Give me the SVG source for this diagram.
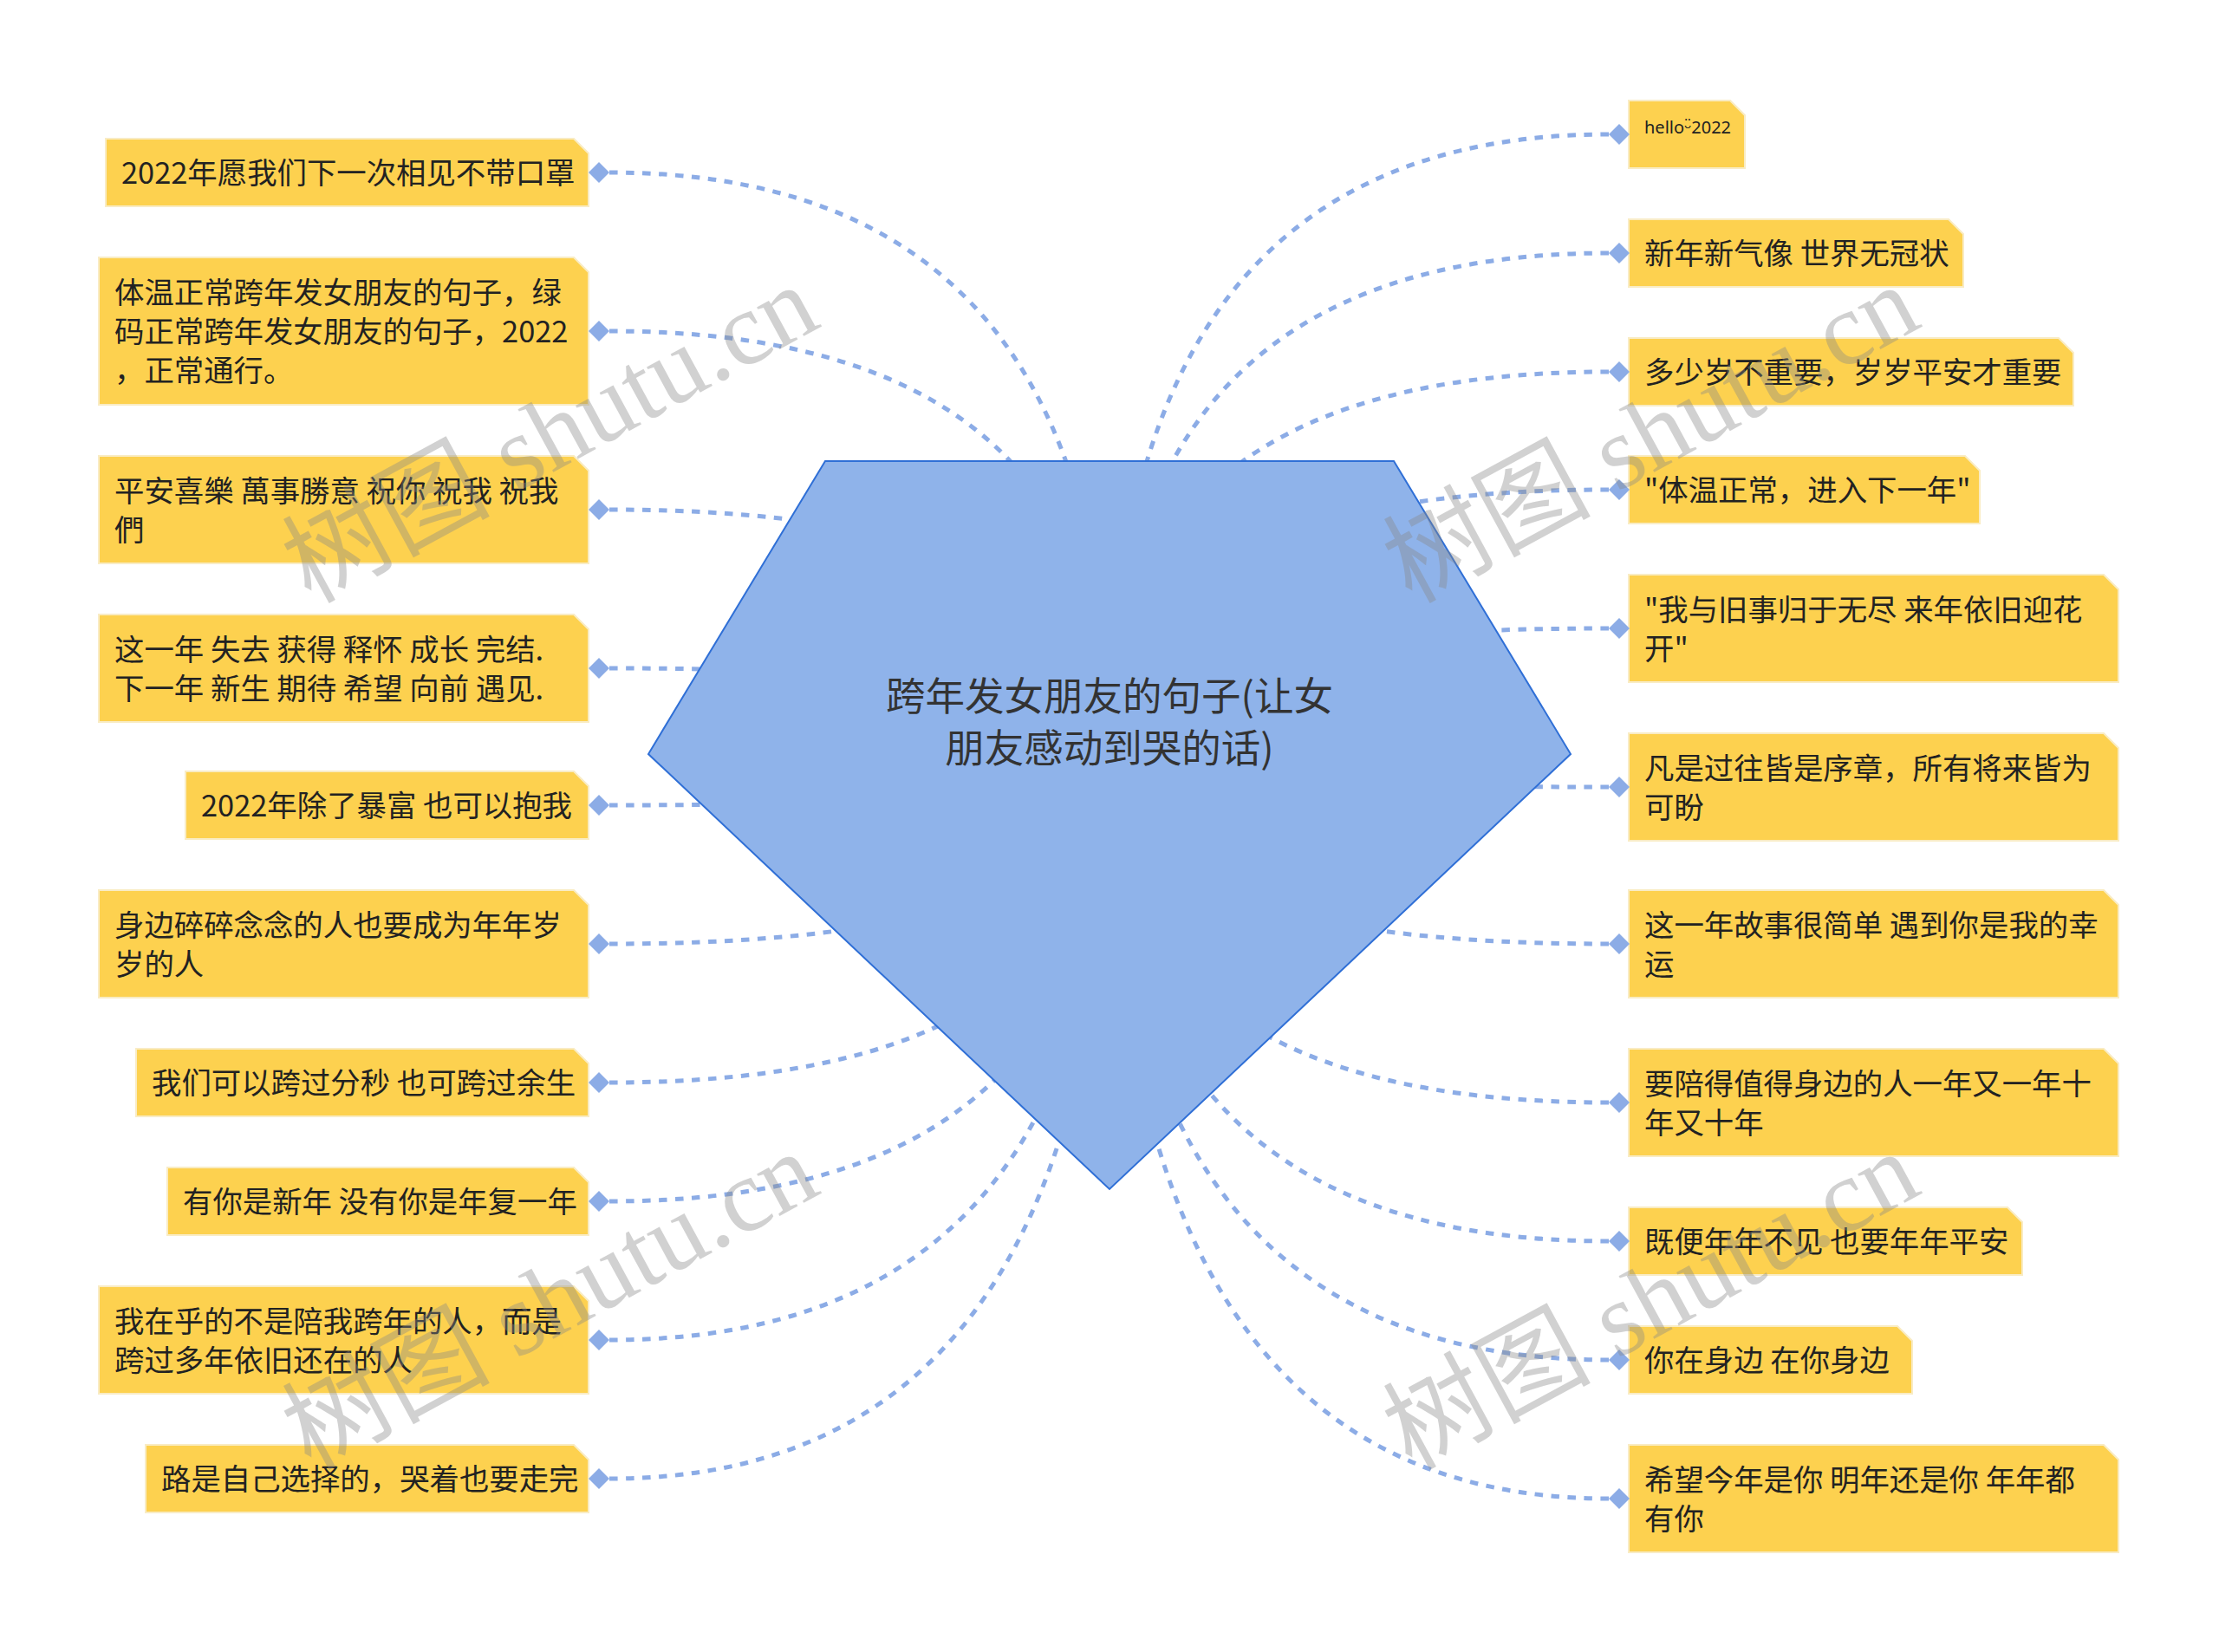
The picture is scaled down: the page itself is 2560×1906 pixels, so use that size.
<svg xmlns="http://www.w3.org/2000/svg" xmlns:xlink="http://www.w3.org/1999/xlink" width="2560" height="1906" viewBox="0 0 2560 1906">
<style>
.bg{fill:#ffffff}
.box{fill:#fdd14f;stroke:#f9ecc4;stroke-width:2}
.t{font-family:"Noto Sans CJK SC","Noto Sans",sans-serif;font-size:34.4px;fill:#222222}
.hello{font-family:"Noto Sans","Noto Sans CJK SC",sans-serif;font-size:20px;fill:#222222}
.title{font-family:"Noto Sans CJK SC","Noto Sans",sans-serif;font-size:45.5px;fill:#333333;text-anchor:middle}
.conn{fill:none;stroke:#8cace6;stroke-width:5;stroke-dasharray:9.5 9.5}
.dm{fill:#8cace6}
.wm{font-family:"Liberation Serif","Noto Sans CJK SC",serif;font-size:120px;fill:#888888;opacity:0.38}
</style>
<defs>
<path id="dm" d="M-12 0 L0 -12 L12 0 L0 12 Z"/>
</defs>
<rect class="bg" x="0" y="0" width="2560" height="1906"/>
<g id="connectors">
<path class="conn" d="M703 199 Q1280 199 1280 870"/>
<path class="conn" d="M703 382 Q1280 382 1280 870"/>
<path class="conn" d="M703 588 Q1280 588 1280 870"/>
<path class="conn" d="M703 771 Q1280 771 1280 870"/>
<path class="conn" d="M703 929 Q1280 929 1280 870"/>
<path class="conn" d="M703 1089 Q1280 1089 1280 870"/>
<path class="conn" d="M703 1249 Q1280 1249 1280 870"/>
<path class="conn" d="M703 1386 Q1280 1386 1280 870"/>
<path class="conn" d="M703 1546 Q1280 1546 1280 870"/>
<path class="conn" d="M703 1706 Q1280 1706 1280 870"/>
<path class="conn" d="M1856 155 Q1280 155 1280 870"/>
<path class="conn" d="M1856 292 Q1280 292 1280 870"/>
<path class="conn" d="M1856 429 Q1280 429 1280 870"/>
<path class="conn" d="M1856 565 Q1280 565 1280 870"/>
<path class="conn" d="M1856 725 Q1280 725 1280 870"/>
<path class="conn" d="M1856 908 Q1280 908 1280 870"/>
<path class="conn" d="M1856 1089 Q1280 1089 1280 870"/>
<path class="conn" d="M1856 1272 Q1280 1272 1280 870"/>
<path class="conn" d="M1856 1432 Q1280 1432 1280 870"/>
<path class="conn" d="M1856 1569 Q1280 1569 1280 870"/>
<path class="conn" d="M1856 1729 Q1280 1729 1280 870"/>
</g>
<g id="center">
<polygon points="952,532 1608,532 1812,870 1280,1372 748,870" fill="#8fb3ea" stroke="#2f6fd6" stroke-width="2"/>
<text class="title" x="1280" y="820">跨年发女朋友的句子(让女</text>
<text class="title" x="1280" y="880">朋友感动到哭的话)</text>
</g>
<g id="L1"><path class="box" d="M122 160 H662 L679 177 V238 H122 Z"/><use href="#dm" class="dm" x="691" y="199"/><text class="t" x="140" y="212">2022年愿我们下一次相见不带口罩</text></g>
<g id="L2"><path class="box" d="M114 297 H662 L679 314 V467 H114 Z"/><use href="#dm" class="dm" x="691" y="382"/><text class="t" x="132" y="350">体温正常跨年发女朋友的句子，绿</text><text class="t" x="132" y="395">码正常跨年发女朋友的句子，2022</text><text class="t" x="132" y="440">，正常通行。</text></g>
<g id="L3"><path class="box" d="M114 526 H662 L679 543 V650 H114 Z"/><use href="#dm" class="dm" x="691" y="588"/><text class="t" x="132" y="578.5">平安喜樂 萬事勝意 祝你 祝我 祝我</text><text class="t" x="132" y="623.5">們</text></g>
<g id="L4"><path class="box" d="M114 709 H662 L679 726 V833 H114 Z"/><use href="#dm" class="dm" x="691" y="771"/><text class="t" x="132" y="761.5">这一年 失去 获得 释怀 成长 完结.</text><text class="t" x="132" y="806.5">下一年 新生 期待 希望 向前 遇见.</text></g>
<g id="L5"><path class="box" d="M214 890 H662 L679 907 V968 H214 Z"/><use href="#dm" class="dm" x="691" y="929"/><text class="t" x="232" y="942">2022年除了暴富 也可以抱我</text></g>
<g id="L6"><path class="box" d="M114 1027 H662 L679 1044 V1151 H114 Z"/><use href="#dm" class="dm" x="691" y="1089"/><text class="t" x="132" y="1079.5">身边碎碎念念的人也要成为年年岁</text><text class="t" x="132" y="1124.5">岁的人</text></g>
<g id="L7"><path class="box" d="M157 1210 H662 L679 1227 V1288 H157 Z"/><use href="#dm" class="dm" x="691" y="1249"/><text class="t" x="175" y="1262">我们可以跨过分秒 也可跨过余生</text></g>
<g id="L8"><path class="box" d="M193 1347 H662 L679 1364 V1425 H193 Z"/><use href="#dm" class="dm" x="691" y="1386"/><text class="t" x="211" y="1399">有你是新年 没有你是年复一年</text></g>
<g id="L9"><path class="box" d="M114 1484 H662 L679 1501 V1608 H114 Z"/><use href="#dm" class="dm" x="691" y="1546"/><text class="t" x="132" y="1536.5">我在乎的不是陪我跨年的人，而是</text><text class="t" x="132" y="1581.5">跨过多年依旧还在的人</text></g>
<g id="L10"><path class="box" d="M168 1667 H662 L679 1684 V1745 H168 Z"/><use href="#dm" class="dm" x="691" y="1706"/><text class="t" x="186" y="1719">路是自己选择的，哭着也要走完</text></g>
<g id="R1"><path class="box" d="M1879 116 H1996 L2013 133 V194 H1879 Z"/><use href="#dm" class="dm" x="1868" y="155"/><text class="hello" x="1897" y="154">helloᵕ̈2022</text></g>
<g id="R2"><path class="box" d="M1879 253 H2248 L2265 270 V331 H1879 Z"/><use href="#dm" class="dm" x="1868" y="292"/><text class="t" x="1897" y="305">新年新气像 世界无冠状</text></g>
<g id="R3"><path class="box" d="M1879 390 H2375 L2392 407 V468 H1879 Z"/><use href="#dm" class="dm" x="1868" y="429"/><text class="t" x="1897" y="442">多少岁不重要，岁岁平安才重要</text></g>
<g id="R4"><path class="box" d="M1879 526 H2267 L2284 543 V604 H1879 Z"/><use href="#dm" class="dm" x="1868" y="565"/><text class="t" x="1897" y="578">"体温正常，进入下一年"</text></g>
<g id="R5"><path class="box" d="M1879 663 H2427 L2444 680 V787 H1879 Z"/><use href="#dm" class="dm" x="1868" y="725"/><text class="t" x="1897" y="715.5">"我与旧事归于无尽 来年依旧迎花</text><text class="t" x="1897" y="760.5">开"</text></g>
<g id="R6"><path class="box" d="M1879 846 H2427 L2444 863 V970 H1879 Z"/><use href="#dm" class="dm" x="1868" y="908"/><text class="t" x="1897" y="898.5">凡是过往皆是序章，所有将来皆为</text><text class="t" x="1897" y="943.5">可盼</text></g>
<g id="R7"><path class="box" d="M1879 1027 H2427 L2444 1044 V1151 H1879 Z"/><use href="#dm" class="dm" x="1868" y="1089"/><text class="t" x="1897" y="1079.5">这一年故事很简单 遇到你是我的幸</text><text class="t" x="1897" y="1124.5">运</text></g>
<g id="R8"><path class="box" d="M1879 1210 H2427 L2444 1227 V1334 H1879 Z"/><use href="#dm" class="dm" x="1868" y="1272"/><text class="t" x="1897" y="1262.5">要陪得值得身边的人一年又一年十</text><text class="t" x="1897" y="1307.5">年又十年</text></g>
<g id="R9"><path class="box" d="M1879 1393 H2316 L2333 1410 V1471 H1879 Z"/><use href="#dm" class="dm" x="1868" y="1432"/><text class="t" x="1897" y="1445">既便年年不见 也要年年平安</text></g>
<g id="R10"><path class="box" d="M1879 1530 H2189 L2206 1547 V1608 H1879 Z"/><use href="#dm" class="dm" x="1868" y="1569"/><text class="t" x="1897" y="1582">你在身边 在你身边</text></g>
<g id="R11"><path class="box" d="M1879 1667 H2427 L2444 1684 V1791 H1879 Z"/><use href="#dm" class="dm" x="1868" y="1729"/><text class="t" x="1897" y="1719.5">希望今年是你 明年还是你 年年都</text><text class="t" x="1897" y="1764.5">有你</text></g>
<g id="watermarks">
<text class="wm" transform="translate(358 697) rotate(-28.5)">树图 shutu.cn</text>
<text class="wm" transform="translate(1628 697) rotate(-28.5)">树图 shutu.cn</text>
<text class="wm" transform="translate(358 1697) rotate(-28.5)">树图 shutu.cn</text>
<text class="wm" transform="translate(1628 1697) rotate(-28.5)">树图 shutu.cn</text>
</g>
</svg>
